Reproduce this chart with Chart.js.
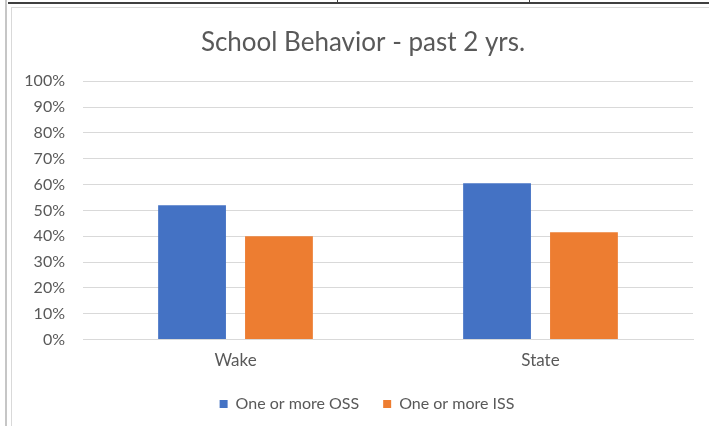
<!DOCTYPE html>
<html>
<head>
<meta charset="utf-8">
<script src="https://cdn.jsdelivr.net/npm/chart.js@4"></script>
<style>
  html, body { margin: 0; padding: 0; background: #fff; }
  body { width: 709px; height: 426px; position: relative; overflow: hidden; }
  .ln { position: absolute; }
  #wrap { position: absolute; left: 13px; top: 9px; width: 696px; height: 417px; }
</style>
</head>
<body>
<!-- bits of the spreadsheet around the chart -->
<div class="ln" style="left:8px;top:2px;width:701px;height:2px;background:#3f3f3f"></div>
<div class="ln" style="left:337px;top:0;width:1px;height:4px;background:#3f3f3f"></div>
<div class="ln" style="left:529px;top:0;width:1px;height:4px;background:#3f3f3f"></div>
<div class="ln" style="left:5px;top:0;width:2px;height:426px;background:#c6c6c6"></div>
<div class="ln" style="left:11px;top:7px;width:1px;height:419px;background:#d9d9d9"></div>
<div class="ln" style="left:11px;top:7px;width:698px;height:1px;background:#d9d9d9"></div>
<div id="wrap"><canvas id="behaviorChart" width="696" height="417"></canvas></div>
<script>
// data
const categories = ['Wake', 'State'];
const ossValues = [52, 60.5];
const issValues = [40, 41.5];
const seriesNames = ['One or more OSS', 'One or more ISS'];
const yTicks = [0, 10, 20, 30, 40, 50, 60, 70, 80, 90, 100];

const textColor = '#595959';
const fontName = 'Lato, "Liberation Sans", sans-serif';

// Excel centres title and legend on the whole chart box, which runs past the
// right edge of the screenshot, so nudge them right after layout
const shiftBoxes = {
  id: 'shiftBoxes',
  afterLayout(chart) {
    if (chart.titleBlock) {
      chart.titleBlock.left += 10;
      chart.titleBlock.right += 10;
    }
    if (chart.legend) {
      chart.legend.left += 14;
      chart.legend.right += 14;
    }
  }
};

new Chart(document.getElementById('behaviorChart').getContext('2d'), {
  type: 'bar',
  data: {
    labels: categories,
    datasets: [
      {
        label: seriesNames[0],
        data: ossValues,
        backgroundColor: '#4472C4',
        borderWidth: 0
      },
      {
        label: seriesNames[1],
        data: issValues,
        backgroundColor: '#ED7D31',
        borderWidth: 0
      }
    ]
  },
  options: {
    responsive: false,
    animation: false,
    categoryPercentage: 0.57,
    barPercentage: 0.78,
    layout: {
      padding: { left: 0, right: 16, top: 0, bottom: 4 }
    },
    scales: {
      x: {
        grid: { display: false },
        border: { color: '#d9d9d9' },
        ticks: {
          color: textColor,
          padding: 3,
          font: { family: fontName, size: 17 }
        },
        afterFit: function(scale) {
          scale.height = 32.5;
        }
      },
      y: {
        min: 0,
        max: 100,
        afterBuildTicks: function(scale) {
          scale.ticks = yTicks.map(v => ({ value: v }));
        },
        grid: { color: '#d9d9d9', drawTicks: false },
        border: { display: false },
        ticks: {
          color: textColor,
          padding: 18,
          font: { family: fontName, size: 16 },
          callback: function(value) {
            return value + '%';
          }
        },
        afterFit: function(scale) {
          scale.width = 70;
        }
      }
    },
    plugins: {
      title: {
        display: true,
        text: 'School Behavior - past 2 yrs.',
        color: textColor,
        font: { family: fontName, size: 26, weight: 'normal' },
        padding: { top: 18, bottom: 23 }
      },
      legend: {
        position: 'bottom',
        labels: {
          color: textColor,
          boxWidth: 8,
          boxHeight: 8,
          padding: 24,
          font: { family: fontName, size: 16 }
        }
      },
      tooltip: { enabled: false }
    }
  },
  plugins: [shiftBoxes]
});
</script>
</body>
</html>
